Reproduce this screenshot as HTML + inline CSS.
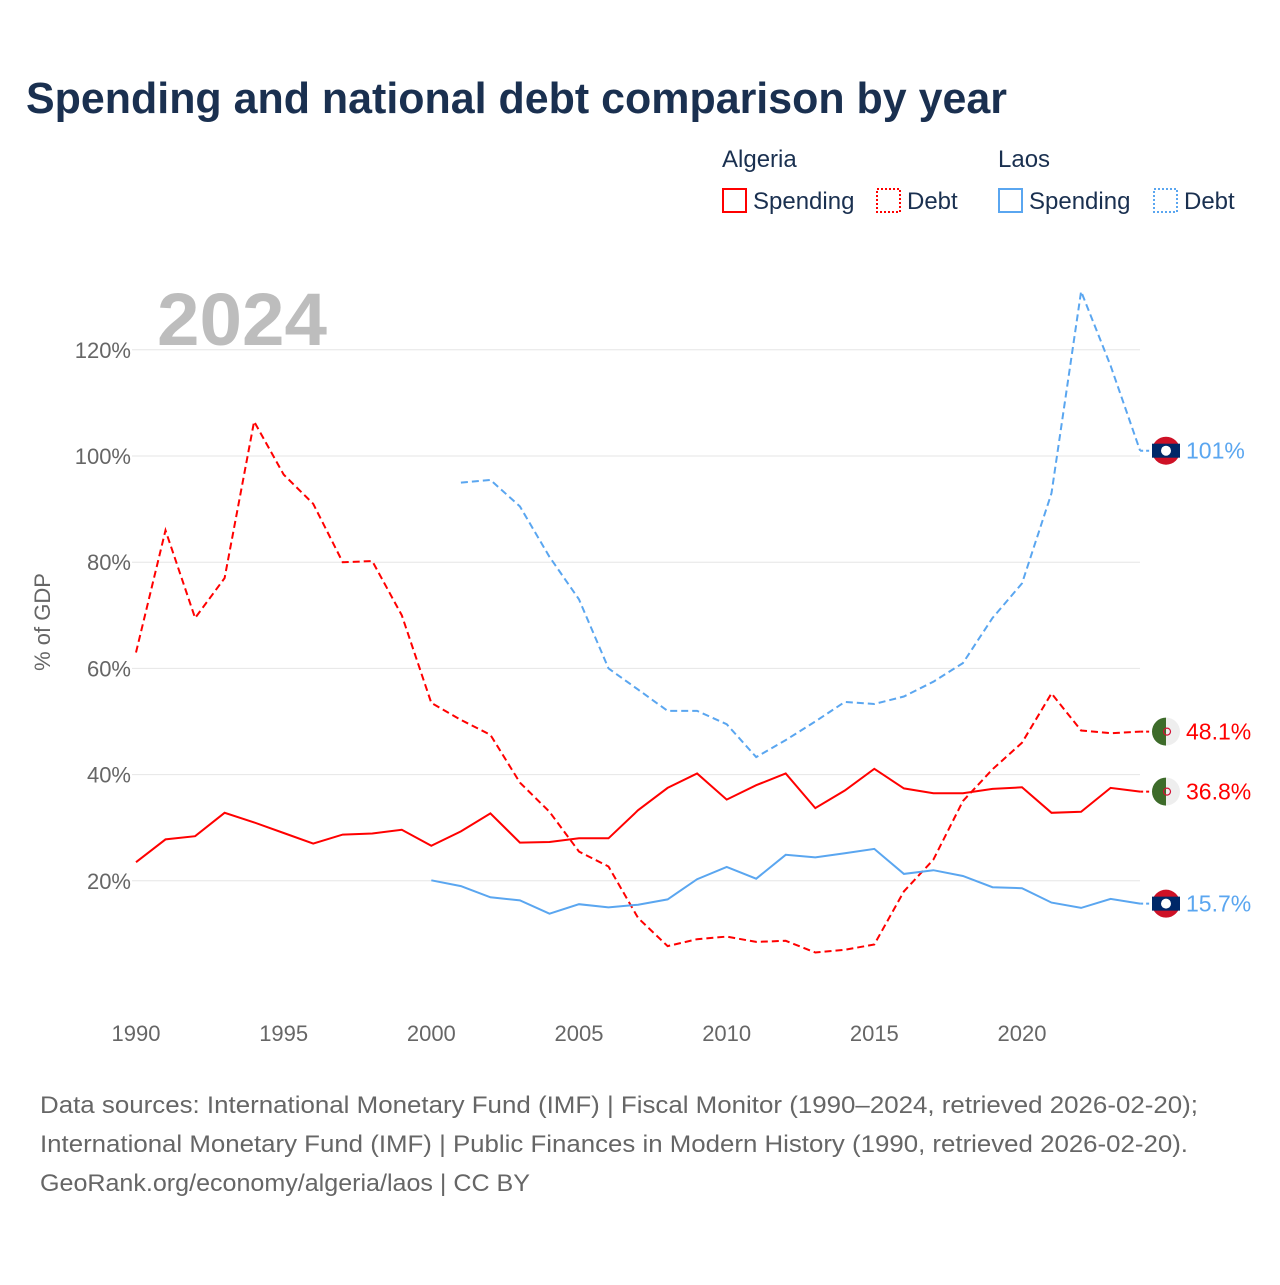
<!DOCTYPE html>
<html><head><meta charset="utf-8"><style>
body{margin:0;background:#fff;font-family:"Liberation Sans",sans-serif}
svg text{font-family:"Liberation Sans",sans-serif}
</style></head><body>
<svg width="1280" height="1280" viewBox="0 0 1280 1280">
<text x="26" y="113" font-size="44" font-weight="bold" fill="#1a3050" textLength="981" lengthAdjust="spacingAndGlyphs">Spending and national debt comparison by year</text>
<g font-size="24" fill="#1a3050">
<text x="722" y="167" fill="#1a3050">Algeria</text>
<text x="998" y="167" fill="#1a3050">Laos</text>
<rect x="723" y="189" width="23" height="23" fill="none" stroke="#f00" stroke-width="2"/>
<text x="753" y="209" fill="#1a3050">Spending</text>
<rect x="877" y="189" width="23" height="23" fill="none" stroke="#f00" stroke-width="2" stroke-dasharray="2,2"/>
<text x="907" y="209" fill="#1a3050">Debt</text>
<rect x="999" y="189" width="23" height="23" fill="none" stroke="#5aa6f0" stroke-width="2"/>
<text x="1029" y="209" fill="#1a3050">Spending</text>
<text x="1184" y="209" fill="#1a3050">Debt</text>
<rect x="1154" y="189" width="23" height="23" fill="none" stroke="#5aa6f0" stroke-width="2" stroke-dasharray="2,2"/>
</g>
<text x="157" y="345" font-size="74" font-weight="bold" fill="#bdbdbd" textLength="170" lengthAdjust="spacingAndGlyphs">2024</text>
<g id="grid"></g><g id="lines"></g><g id="ends"></g>
<text transform="translate(50,622) rotate(-90)" text-anchor="middle" font-size="22" fill="#666">% of GDP</text>
<g font-size="24" fill="#666">
<text x="40" y="1113" textLength="1158" lengthAdjust="spacingAndGlyphs">Data sources: International Monetary Fund (IMF) | Fiscal Monitor (1990–2024, retrieved 2026-02-20);</text>
<text x="40" y="1152" textLength="1148" lengthAdjust="spacingAndGlyphs">International Monetary Fund (IMF) | Public Finances in Modern History (1990, retrieved 2026-02-20).</text>
<text x="40" y="1191" textLength="490" lengthAdjust="spacingAndGlyphs">GeoRank.org/economy/algeria/laos | CC BY</text>
</g>
</svg>
<script>
const yTicks=[20,40,60,80,100,120];
const xTicks=[1990,1995,2000,2005,2010,2015,2020];
const algDebtStart=1990;
const algDebt=[63,86,69.5,77,106.5,96.5,91,80,80.2,70,53.5,50.3,47.5,38.5,33,25.5,22.7,13,7.7,9,9.5,8.5,8.7,6.5,7,8,18,24,35,41,46,55.3,48.3,47.8,48.1];
const algSpendStart=1990;
const algSpend=[23.5,27.8,28.4,32.8,31,29,27,28.7,28.9,29.6,26.6,29.3,32.7,27.2,27.3,28,28,33.3,37.5,40.2,35.3,38,40.2,33.7,37,41.1,37.4,36.5,36.5,37.3,37.6,32.8,33,37.5,36.8];
const laoSpendStart=2000;
const laoSpend=[20.1,19,16.9,16.3,13.8,15.6,15,15.5,16.5,20.3,22.6,20.4,24.9,24.4,25.2,26,21.3,22,20.9,18.8,18.6,15.9,14.9,16.6,15.7];
const laoDebtStart=2001;
const laoDebt=[95,95.5,90.5,81,73,60,56,52,52,49.5,43.3,46.5,50,53.7,53.3,54.7,57.5,61,69.5,76,93,131,117,101];
const NS="http://www.w3.org/2000/svg";
const x=yr=>136+(yr-1990)*(1022-136)/30;
const y=v=>987-v*5.31;
function mk(tag,attrs,parent){const e=document.createElementNS(NS,tag);for(const k in attrs)e.setAttribute(k,attrs[k]);document.getElementById(parent).appendChild(e);return e;}
yTicks.forEach(t=>{
const l=mk('line',{x1:132,x2:1140,y1:y(t),y2:y(t),stroke:'#e6e6e6','stroke-width':1},'grid');


const tx=mk('text',{x:131,y:y(t)+8,'text-anchor':'end','font-size':22,fill:'#666'},'grid');tx.textContent=t+'%';


});
xTicks.forEach(t=>{
const tx=mk('text',{x:x(t),y:1041,'text-anchor':'middle','font-size':22,fill:'#666'},'grid');tx.textContent=t;


});
function line(vals,start,color,dash,name){
const d=vals.map((v,i)=>(i?'L':'M')+x(start+i).toFixed(1)+','+y(v).toFixed(1)).join('');
const p=mk('path',{d:d,fill:'none',stroke:color,'stroke-width':2,'stroke-dasharray':dash},'lines');


}
line(algDebt,algDebtStart,'#f00','7,4','line-algeria-debt');
line(algSpend,algSpendStart,'#f00','none','line-algeria-spending');
line(laoDebt,laoDebtStart,'#5aa6f0','7,4','line-laos-debt');
line(laoSpend,laoSpendStart,'#5aa6f0','none','line-laos-spending');
function endLab(v,color,country,name,start,arr){
const last=arr[arr.length-1];
const cy=y(last),cx=1166;
mk('line',{x1:x(start+arr.length-1),x2:cx-14,y1:cy,y2:cy,stroke:color,'stroke-width':2,'stroke-dasharray':'3,3'},'ends');
const g=mk('g',{},'ends');


if(country==='laos'){
mk('circle',{cx:cx,cy:cy,r:14,fill:'#ce1126'},'ends');
mk('rect',{x:cx-14,y:cy-7,width:28,height:14,fill:'#002868'},'ends');
mk('circle',{cx:cx,cy:cy,r:5,fill:'#fff'},'ends');
}else{
mk('circle',{cx:cx,cy:cy,r:14,fill:'#eee'},'ends');
mk('path',{d:`M${cx},${cy-14}A14,14 0 0 0 ${cx},${cy+14}Z`,fill:'#3d6b2a'},'ends');
mk('circle',{cx:cx+1,cy:cy,r:3.5,fill:'none',stroke:'#d21034','stroke-width':1.2},'ends');
}
const t=mk('text',{x:1186,y:cy+8,'font-size':23,fill:color},'ends');t.textContent=v;


}
endLab(laoDebt[laoDebt.length-1].toFixed(0)+'%','#5aa6f0','laos','laos-debt',laoDebtStart,laoDebt);
endLab(algDebt[algDebt.length-1].toFixed(1)+'%','#f00','alg','algeria-debt',algDebtStart,algDebt);
endLab(algSpend[algSpend.length-1].toFixed(1)+'%','#f00','alg','algeria-spending',algSpendStart,algSpend);
endLab(laoSpend[laoSpend.length-1].toFixed(1)+'%','#5aa6f0','laos','laos-spending',laoSpendStart,laoSpend);
</script>
</body></html>
